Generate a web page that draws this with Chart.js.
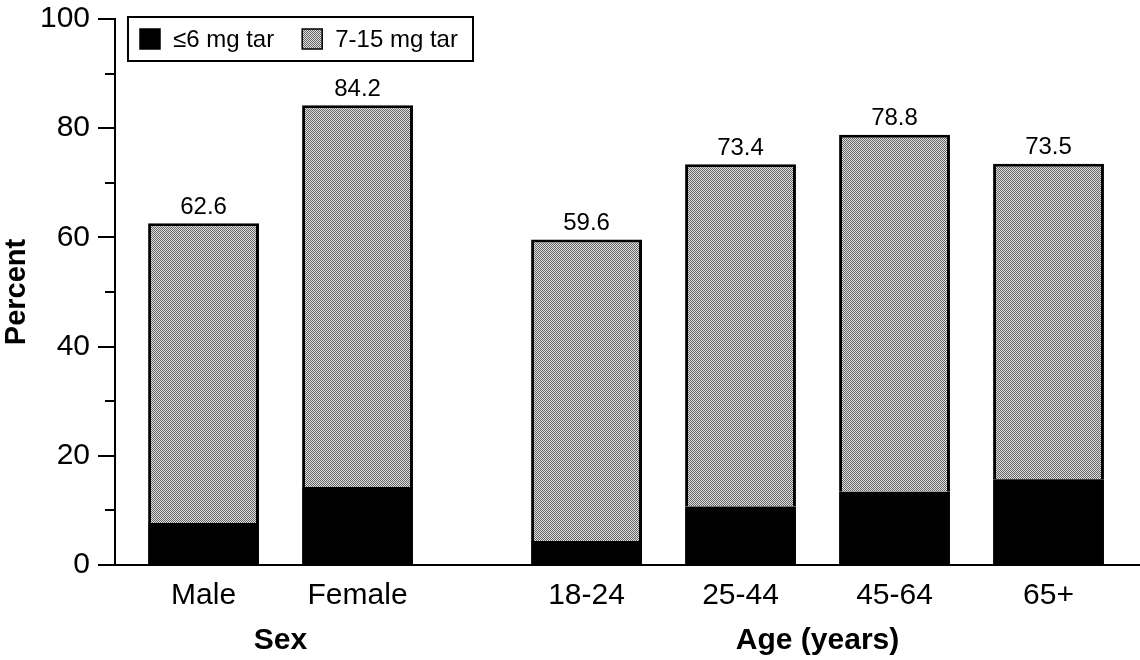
<!DOCTYPE html>
<html>
<head>
<meta charset="utf-8">
<script src="https://cdn.jsdelivr.net/npm/chart.js@4"></script>
<style>
  html, body { margin: 0; padding: 0; background: #fff; }
  canvas { display: block; }
</style>
</head>
<body>
<canvas id="grafica" width="1140" height="660"></canvas>
<script>
// ==========================
// DATOS
// ==========================
const categorias = ['Male', 'Female', '18-24', '25-44', '45-64', '65+'];
const grupos = ['Sex', 'Sex', 'Age (years)', 'Age (years)', 'Age (years)', 'Age (years)'];
const bajoAlquitran = [7.7, 14.3, 4.4, 10.7, 13.4, 15.7];      // <=6 mg tar
const medioAlquitran = [54.9, 69.9, 55.2, 62.7, 65.4, 57.8];   // 7-15 mg tar
const totales = ['62.6', '84.2', '59.6', '73.4', '78.8', '73.5'];
const yTicks = [0, 20, 40, 60, 80, 100];
const yMinor = [10, 30, 50, 70, 90];

const FUENTE = "'Liberation Sans', Arial, Helvetica, sans-serif";
const HUECO = 0.487; // separacion extra entre grupos

// posicion de cada categoria en el eje x (indice + hueco por grupo)
const nombresGrupo = [...new Set(grupos)];
const posiciones = categorias.map((c, i) => i + nombresGrupo.indexOf(grupos[i]) * HUECO);

// patron gris punteado
function patronGris() {
    const c = document.createElement('canvas');
    c.width = 2; c.height = 2;
    const g = c.getContext('2d');
    g.fillStyle = '#dedede';
    g.fillRect(0, 0, 2, 2);
    g.fillStyle = '#666666';
    g.fillRect(0, 0, 1, 1);
    g.fillRect(1, 1, 1, 1);
    return g.createPattern(c, 'repeat');
}
const gris = patronGris();

// ==========================
// PLUGINS
// ==========================
const extras = {
    id: 'extras',
    afterDraw(chart) {
        const ctx = chart.ctx;
        const x = chart.scales.x, y = chart.scales.y;
        const area = chart.chartArea;
        ctx.save();

        // ticks menores
        ctx.strokeStyle = '#000';
        ctx.lineWidth = 2;
        yMinor.forEach(v => {
            const py = Math.round(y.getPixelForValue(v));
            ctx.beginPath();
            ctx.moveTo(area.left - 10, py);
            ctx.lineTo(area.left, py);
            ctx.stroke();
        });

        // linea base hasta el borde
        const by = Math.round(y.getPixelForValue(0));
        ctx.beginPath();
        ctx.moveTo(area.left, by);
        ctx.lineTo(chart.width, by);
        ctx.stroke();

        // totales encima de cada barra
        ctx.fillStyle = '#000';
        ctx.font = '24px ' + FUENTE;
        ctx.textAlign = 'center';
        ctx.textBaseline = 'bottom';
        const meta = chart.getDatasetMeta(1);
        meta.data.forEach((bar, i) => {
            ctx.fillText(totales[i], bar.x, bar.y - 4);
        });

        // nombres de grupo
        ctx.font = 'bold 30px ' + FUENTE;
        ctx.textBaseline = 'alphabetic';
        nombresGrupo.forEach(g => {
            const px = posiciones.filter((p, i) => grupos[i] === g).map(p => x.getPixelForValue(p));
            const cx = (Math.min(...px) + Math.max(...px)) / 2;
            ctx.fillText(g, cx, 649);
        });

        // leyenda con recuadro
        const lx = area.left + 13, ly = area.top - 2;
        ctx.lineWidth = 2;
        ctx.strokeRect(lx, ly, 345, 44);
        ctx.font = '24px ' + FUENTE;
        ctx.textAlign = 'left';
        ctx.textBaseline = 'middle';
        let cx = lx + 12;
        chart.data.datasets.forEach(ds => {
            ctx.fillStyle = ds.backgroundColor;
            ctx.fillRect(cx, ly + 12, 20, 20);
            ctx.lineWidth = 1.5;
            ctx.strokeRect(cx, ly + 12, 20, 20);
            ctx.fillStyle = '#000';
            ctx.fillText(ds.label, cx + 33, ly + 23);
            cx += 33 + ctx.measureText(ds.label).width + 28;
        });

        ctx.restore();
    }
};

// ==========================
// GRAFICA
// ==========================
new Chart(document.getElementById('grafica'), {
    type: 'bar',
    data: {
        datasets: [{
            label: '≤6 mg tar',
            data: posiciones.map((p, i) => ({ x: p, y: bajoAlquitran[i] })),
            backgroundColor: '#000',
            borderWidth: 0
        }, {
            label: '7-15 mg tar',
            data: posiciones.map((p, i) => ({ x: p, y: medioAlquitran[i] })),
            backgroundColor: gris,
            borderColor: '#000',
            borderWidth: 3,
            borderSkipped: 'start'
        }]
    },
    options: {
        responsive: false,
        animation: false,
        barPercentage: 0.72,
        categoryPercentage: 1,
        layout: { padding: { top: 19, right: 0, left: 0, bottom: 0 } },
        plugins: {
            legend: { display: false },
            tooltip: { enabled: false }
        },
        scales: {
            x: {
                type: 'linear',
                stacked: true,
                offset: false,
                min: -0.575,
                max: 6.081,
                afterBuildTicks: s => { s.ticks = posiciones.map(p => ({ value: p })); },
                afterFit: s => { s.height = 95; s.paddingRight = 0; s.paddingLeft = 0; },
                grid: { display: true, drawOnChartArea: false, drawTicks: false },
                border: { display: true, color: '#000', width: 2 },
                ticks: {
                    autoSkip: false,
                    maxRotation: 0,
                    padding: 13,
                    color: '#000',
                    font: { family: FUENTE, size: 30 },
                    callback: v => categorias[posiciones.indexOf(v)]
                }
            },
            y: {
                stacked: true,
                min: 0,
                max: 100,
                afterBuildTicks: s => { s.ticks = yTicks.map(v => ({ value: v })); },
                afterFit: s => { s.width = 115; s.paddingTop = 0; s.paddingBottom = 0; },
                grid: { drawOnChartArea: false, drawTicks: true, tickLength: 17, color: '#000', lineWidth: 2 },
                border: { display: true, color: '#000', width: 2 },
                ticks: {
                    padding: 8,
                    color: '#000',
                    font: { family: FUENTE, size: 30 }
                },
                title: {
                    display: true,
                    text: 'Percent',
                    color: '#000',
                    padding: { top: 0, bottom: 0 },
                    font: { family: FUENTE, size: 29, weight: 'bold' }
                }
            }
        }
    },
    plugins: [extras]
});
</script>
</body>
</html>
